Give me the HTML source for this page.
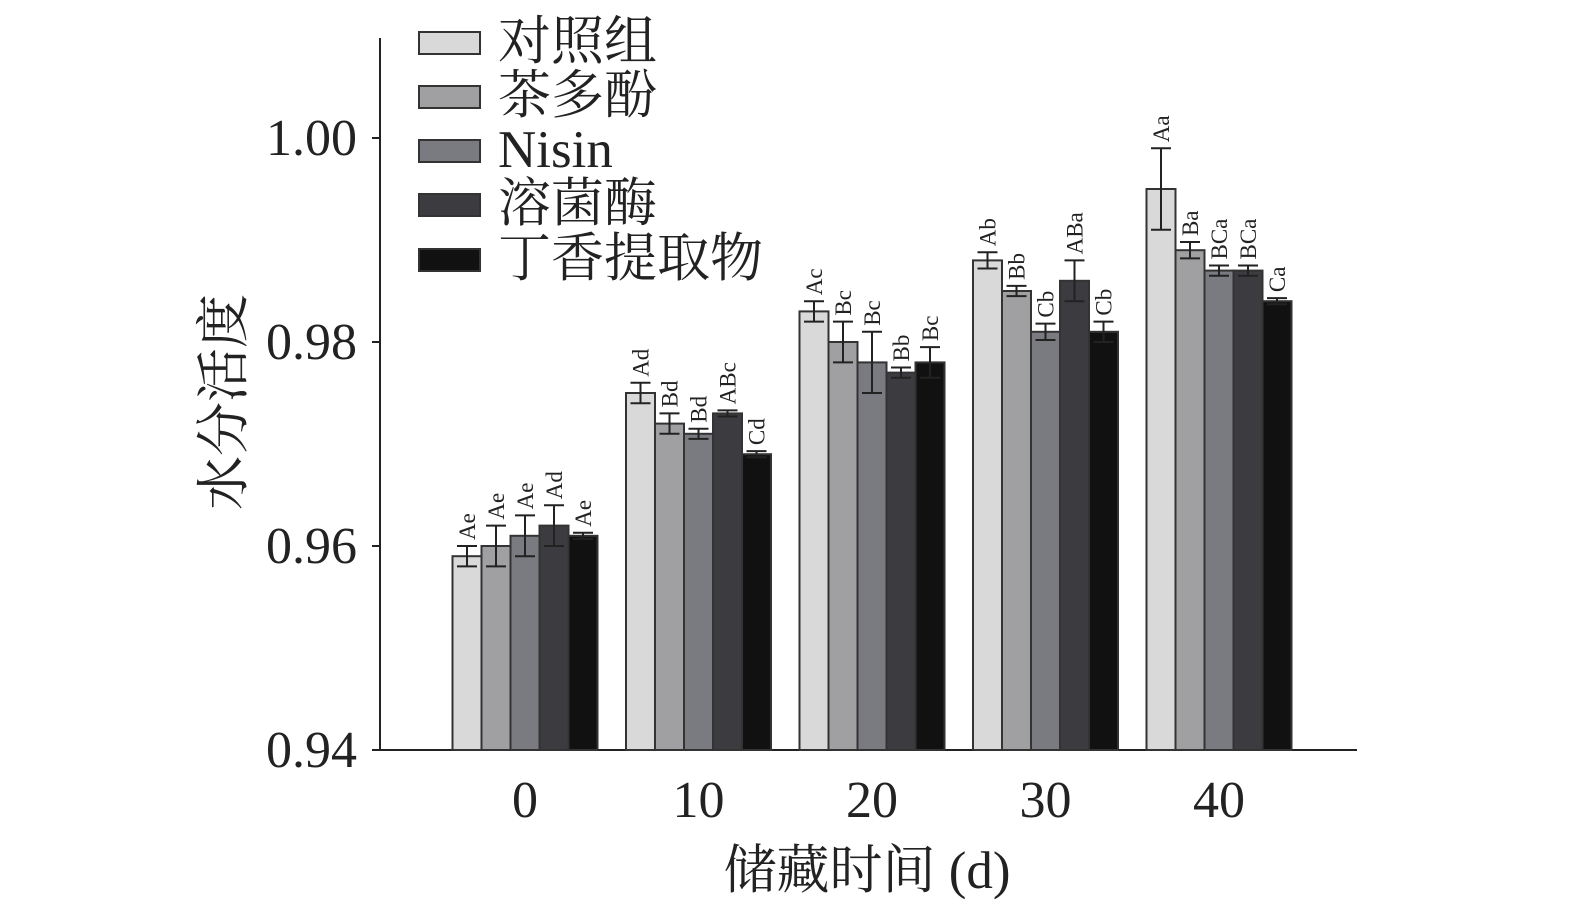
<!DOCTYPE html>
<html><head><meta charset="utf-8"><style>
html,body{margin:0;padding:0;background:#fff;}
svg{display:block;font-family:"Liberation Serif","Noto Serif CJK SC",serif;}
</style></head><body>
<svg id="chart" width="1575" height="908">
</svg>
<script>
const categories=["0","10","20","30","40"];
const seriesNames=["对照组","茶多酚","Nisin","溶菌酶","丁香提取物"];
const colors=["#d9d9d9","#a0a0a2","#7a7b80","#3c3c40","#111111"];
const s0=[0.959,0.975,0.983,0.988,0.995];
const s1=[0.960,0.972,0.980,0.985,0.989];
const s2=[0.961,0.971,0.978,0.981,0.987];
const s3=[0.962,0.973,0.977,0.986,0.987];
const s4=[0.961,0.969,0.978,0.981,0.984];
const e0=[0.001,0.001,0.001,0.0008,0.004];
const e1=[0.002,0.001,0.002,0.0005,0.0008];
const e2=[0.002,0.0005,0.003,0.0008,0.0005];
const e3=[0.002,0.0003,0.0005,0.002,0.0005];
const e4=[0.0003,0.0003,0.0015,0.001,0.0003];
const l0=["Ae","Ad","Ac","Ab","Aa"];
const l1=["Ae","Bd","Bc","Bb","Ba"];
const l2=["Ae","Bd","Bc","Cb","BCa"];
const l3=["Ad","ABc","Bb","ABa","BCa"];
const l4=["Ae","Cd","Bc","Cb","Ca"];
const yTicks=[0.94,0.96,0.98,1.00];
const yTickLabels=["0.94","0.96","0.98","1.00"];
const series=[s0,s1,s2,s3,s4],errs=[e0,e1,e2,e3,e4],labs=[l0,l1,l2,l3,l4];
const NS="http://www.w3.org/2000/svg",svg=document.getElementById('chart');
const y=v=>750-(v-0.94)/0.02*204;
const xc=i=>525+i*173.5;
const BW=29;
function mk(t,a,p){const e=document.createElementNS(NS,t);for(const k in a)e.setAttribute(k,a[k]);(p||svg).appendChild(e);return e;}
let ax=mk('line',{x1:380,y1:38,x2:380,y2:751,stroke:'#222','stroke-width':2});

ax=mk('line',{x1:379,y1:750,x2:1357,y2:750,stroke:'#222','stroke-width':2});

yTicks.forEach((v,i)=>{
 const t=mk('line',{x1:372,y1:y(v),x2:380,y2:y(v),stroke:'#222','stroke-width':2});
 
 const tx=mk('text',{x:357,y:y(v)+17,'text-anchor':'end','font-size':52,fill:'#222'});
 tx.textContent=yTickLabels[i];
 
});
categories.forEach((c,i)=>{
 const tx=mk('text',{x:xc(i),y:817,'text-anchor':'middle','font-size':52,fill:'#222'});
 tx.textContent=c;
 
 series.forEach((s,j)=>{
  const x0=xc(i)-2.5*BW+j*BW, v=s[i], e=errs[j][i], cx=x0+BW/2;
  const r=mk('rect',{x:x0,y:y(v),width:BW,height:750-y(v),fill:colors[j],stroke:'#333','stroke-width':2});
  
  const g=mk('g',{stroke:'#222','stroke-width':2});
  
  mk('line',{x1:cx,y1:y(v+e),x2:cx,y2:y(v-e)},g);
  mk('line',{x1:cx-10,y1:y(v+e),x2:cx+10,y2:y(v+e)},g);
  mk('line',{x1:cx-10,y1:y(v-e),x2:cx+10,y2:y(v-e)},g);
  const lt=mk('text',{x:0,y:0,'font-size':23,fill:'#222',transform:`translate(${cx+8},${y(v+e)-6}) rotate(-90)`});
  lt.textContent=labs[j][i];
  
 });
});
const ly=[40,94,148,202,257];
seriesNames.forEach((n,j)=>{
 const g=mk('g',{});
 
 mk('rect',{x:419,y:ly[j]-8,width:61,height:22,fill:colors[j],stroke:'#333','stroke-width':2},g);
 const t=mk('text',{x:498,y:ly[j]+19,'font-size':53,fill:'#222'},g);t.textContent=n;
});
let t=mk('text',{x:0,y:0,'font-size':54,fill:'#222','text-anchor':'middle',transform:'translate(242,402) rotate(-90)'});
t.textContent='水分活度';
t=mk('text',{x:867,y:888,'font-size':53,fill:'#222','text-anchor':'middle'});
t.textContent='储藏时间 (d)';
</script>
</body></html>
